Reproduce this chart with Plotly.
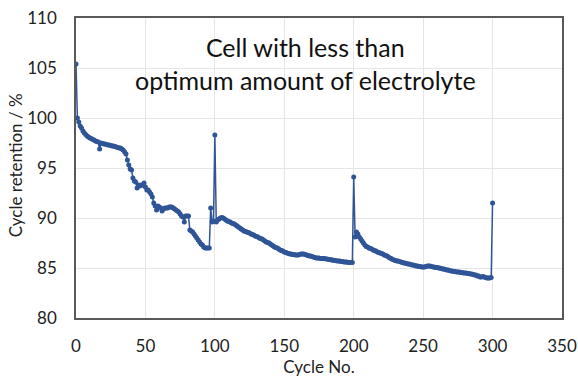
import plotly.graph_objects as go

cycles = list(range(0, 301))
retention = [
    105.4, 100.0, 99.6, 99.2, 99.0, 98.7, 98.5, 98.35, 98.2, 98.1,
    98.0, 97.95, 97.85, 97.8, 97.7, 97.65, 97.6, 96.9, 97.5, 97.45,
    97.4, 97.4, 97.35, 97.3, 97.3, 97.25, 97.2, 97.2, 97.15, 97.1,
    97.05, 97.0, 97.0, 96.9, 96.8, 96.6, 96.4, 95.8, 95.3, 94.9,
    94.8, 94.0, 93.7, 93.6, 93.0, 93.3, 93.2, 93.3, 93.3, 93.5,
    93.1, 92.8, 92.8, 92.6, 92.4, 92.1, 91.5, 91.2, 90.8, 91.2,
    91.1, 91.0, 90.7, 90.9, 91.0, 91.0, 91.0, 91.1, 91.1, 91.1,
    91.0, 90.9, 90.8, 90.7, 90.6, 90.4, 90.2, 90.1, 89.6, 90.2,
    90.2, 90.2, 88.8, 88.7, 88.6, 88.4, 88.2, 88.0, 87.8, 87.6,
    87.4, 87.3, 87.1, 87.0, 87.0, 87.0, 87.0, 91.0, 89.6, 89.7,
    98.3, 89.6, 89.8, 89.9, 90.0, 90.05, 90.0, 89.9, 89.8, 89.7,
    89.65, 89.6, 89.5, 89.45, 89.4, 89.3, 89.2, 89.1, 89.0, 88.9,
    88.8, 88.7, 88.65, 88.6, 88.55, 88.5, 88.4, 88.35, 88.3, 88.2,
    88.15, 88.1, 88.0, 87.95, 87.9, 87.8, 87.7, 87.6, 87.55, 87.5,
    87.4, 87.3, 87.2, 87.1, 87.05, 87.0, 86.9, 86.8, 86.75, 86.7,
    86.6, 86.55, 86.5, 86.45, 86.4, 86.4, 86.35, 86.35, 86.3, 86.3,
    86.3, 86.35, 86.4, 86.4, 86.4, 86.35, 86.3, 86.25, 86.2, 86.2,
    86.15, 86.1, 86.05, 86.0, 86.0, 86.0, 85.95, 85.95, 85.95, 85.95,
    85.9, 85.9, 85.85, 85.85, 85.8, 85.8, 85.75, 85.75, 85.7, 85.7,
    85.7, 85.65, 85.65, 85.6, 85.6, 85.6, 85.55, 85.55, 85.55, 85.55,
    94.1, 88.1, 88.6, 88.4, 88.1, 87.9, 87.7, 87.5, 87.3, 87.15,
    87.1, 87.0, 86.95, 86.9, 86.8, 86.75, 86.7, 86.6, 86.55, 86.5,
    86.45, 86.4, 86.3, 86.25, 86.2, 86.1, 86.0, 85.95, 85.85, 85.8,
    85.75, 85.7, 85.7, 85.65, 85.6, 85.55, 85.5, 85.5, 85.45, 85.4,
    85.4, 85.35, 85.3, 85.3, 85.25, 85.2, 85.2, 85.15, 85.15, 85.1,
    85.1, 85.1, 85.15, 85.2, 85.2, 85.2, 85.15, 85.1, 85.1, 85.05,
    85.05, 85.0, 85.0, 84.95, 84.9, 84.9, 84.85, 84.8, 84.8, 84.75,
    84.7, 84.7, 84.65, 84.65, 84.6, 84.6, 84.6, 84.55, 84.55, 84.5,
    84.5, 84.5, 84.45, 84.45, 84.4, 84.4, 84.35, 84.3, 84.3, 84.2,
    84.2, 84.1, 84.1, 84.15, 84.1, 84.05, 84.0, 84.0, 84.0, 84.05,
    91.5,
]

x_ticks = [0, 50, 100, 150, 200, 250, 300, 350]
y_ticks = [80, 85, 90, 95, 100, 105, 110]
title_lines = ["Cell with less than", "optimum amount of electrolyte"]
y_title = "Cycle retention / %"
x_title = "Cycle No."

FONT = "Lato, Carlito, Calibri, sans-serif"
BLUE = "#2F5597"
AXIS = "#595959"
GRID = "#E6E6E6"

fig = go.Figure()
fig.add_trace(go.Scatter(
    x=cycles, y=retention, mode="lines+markers",
    line=dict(color=BLUE, width=1.5),
    marker=dict(color=BLUE, size=5),
    showlegend=False,
))

fig.update_layout(
    width=578, height=381,
    margin=dict(l=76, r=16, t=18, b=63),
    paper_bgcolor="white", plot_bgcolor="white",
    font=dict(family=FONT, size=17, color="#222222"),
    annotations=[
        dict(
            text="<br>".join(title_lines), xref="paper", yref="paper",
            x=0.473, y=0.847, xanchor="center", yanchor="middle",
            showarrow=False, font=dict(family=FONT, size=25, color="#111111"),
            align="center",
        ),
        dict(
            text=y_title, xref="paper", yref="paper",
            x=-0.125, y=0.51, xanchor="center", yanchor="middle",
            textangle=-90, showarrow=False,
            font=dict(family=FONT, size=17, color="#222222"),
        ),
    ],
)
fig.update_xaxes(
    range=[0, 350], tickvals=x_ticks, showgrid=True, gridcolor=GRID, gridwidth=1,
    showline=True, linecolor=AXIS, linewidth=1.5, mirror=True, automargin=False,
    zeroline=False, ticks="", ticklabelstandoff=12,
    title=dict(text=x_title, font=dict(family=FONT, size=17), standoff=4),
)
fig.update_yaxes(
    range=[80, 110], tickvals=y_ticks, showgrid=True, gridcolor=GRID, gridwidth=1,
    showline=True, linecolor=AXIS, linewidth=1.5, mirror=True, automargin=False,
    zeroline=False, ticks="", ticklabelstandoff=14,
)

fig.write_html("out.html")
